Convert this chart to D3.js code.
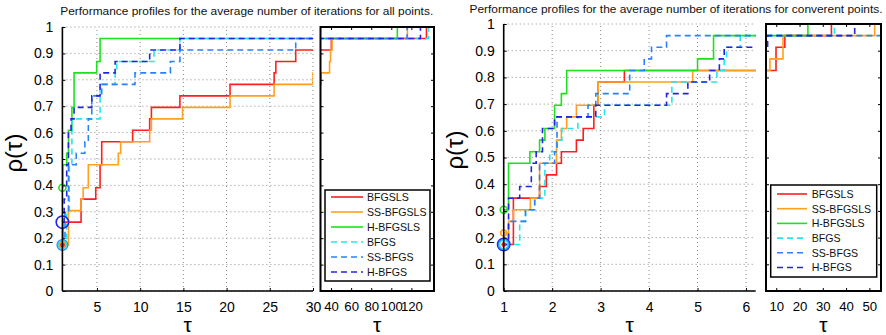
<!DOCTYPE html>
<html><head><meta charset="utf-8">
<script src="https://cdn.jsdelivr.net/npm/d3@7"></script>
<style>body{margin:0;background:#fff;} svg{display:block;font-family:"Liberation Sans",Arial,Helvetica,sans-serif;}</style>
</head><body><svg id="c" width="886" height="335"></svg>
<script>
// ---------------- DATA ----------------
const N_PROBLEMS = 23;
const seriesNames  = ["BFGSLS", "SS-BFGSLS", "H-BFGSLS", "BFGS", "SS-BFGS", "H-BFGS"];
const seriesColors = ["#ff1f1f", "#ffa01e", "#1fe01f", "#22e6f0", "#2a80ff", "#2323e8"];
const seriesDashed = [false, false, false, true, true, true];
const markerRadius = [1.6, 3, 3.5, 4.2, 5.2, 6.2];

// Panel 1: all points  (tau breakpoints, number of problems solved at that tau)
const allTau_BFGSLS   = [1, 1.05, 3.16, 4.86, 5.36, 5.55, 9.13, 11.1, 11.3, 14.6, 20.4, 25.5, 25.7, 28, 40.3, 135];
const allCnt_BFGSLS   = [4, 6, 8, 9, 11, 13, 14, 15, 16, 17, 18, 19, 20, 21, 22, 23];
const allTau_SSBFGSLS = [1, 1.7, 3.16, 3.4, 4.0, 7.47, 7.74, 11.1, 11.3, 14.9, 20.4, 25.5, 30, 38.5, 39.5, 41, 116];
const allCnt_SSBFGSLS = [4, 7, 8, 9, 11, 12, 13, 14, 15, 16, 17, 18, 19, 20, 21, 22, 23];
const allTau_HBFGSLS  = [1, 1.05, 1.5, 1.7, 2.1, 2.35, 4.97, 5.36, 106];
const allCnt_HBFGSLS  = [9, 11, 12, 14, 16, 19, 20, 22, 23];
const allTau_BFGS     = [1, 1.5, 1.8, 2.1, 5.36, 7.1, 7.3, 11.6, 14.6, 137];
const allCnt_BFGS     = [4, 7, 11, 15, 18, 19, 20, 21, 22, 23];
const allTau_SSBFGS   = [1, 1.3, 1.7, 2.6, 3.6, 4.0, 4.4, 5.55, 9.4, 13.5, 14.6, 28, 115.7];
const allCnt_SSBFGS   = [4, 7, 11, 12, 13, 15, 17, 18, 19, 20, 21, 22, 23];
const allTau_HBFGS    = [1, 1.2, 1.5, 1.7, 2.0, 2.35, 4.4, 5.36, 7.1, 11.1, 14.6, 129];
const allCnt_HBFGS    = [6, 8, 11, 14, 15, 16, 17, 19, 20, 21, 22, 23];

// Panel 2: convergent points
const conTau_BFGSLS   = [1, 1.2, 1.74, 1.88, 2.09, 2.19, 2.5, 2.64, 2.86, 2.95, 3.49, 9.9, 13.7, 33.7];
const conCnt_BFGSLS   = [4, 8, 9, 10, 11, 12, 13, 14, 16, 18, 19, 21, 22, 23];
const conTau_SSBFGSLS = [1, 1.1, 1.2, 1.55, 1.74, 2.09, 2.19, 2.3, 2.5, 2.95, 4.9, 7.3, 12.9, 52.3];
const conCnt_SSBFGSLS = [5, 6, 7, 8, 11, 13, 14, 15, 16, 18, 19, 20, 22, 23];
const conTau_HBFGSLS  = [1, 1.1, 1.54, 1.74, 1.85, 2.05, 2.19, 2.3, 5.0, 5.33, 23.6];
const conCnt_HBFGSLS  = [7, 11, 12, 13, 14, 16, 17, 19, 20, 22, 23];
const conTau_BFGS     = [1, 1.33, 1.45, 1.64, 1.85, 1.95, 2.1, 2.2, 2.53, 3.08, 4.47, 5.4, 5.55, 5.6, 5.88, 35];
const conCnt_BFGS     = [4, 6, 7, 8, 11, 12, 13, 14, 15, 16, 18, 19, 20, 21, 22, 23];
const conTau_SSBFGS   = [1, 1.1, 1.45, 1.64, 1.74, 2.05, 2.1, 2.74, 2.9, 3.6, 3.9, 4.05, 4.36, 55];
const conCnt_SSBFGS   = [4, 6, 7, 8, 11, 12, 15, 16, 17, 19, 20, 21, 22, 23];
const conTau_HBFGS    = [1, 1.1, 1.33, 1.57, 1.67, 1.8, 2.05, 2.4, 2.9, 4.36, 4.8, 5.25, 5.45, 5.55, 6.3, 43.7];
const conCnt_HBFGS    = [4, 8, 9, 11, 12, 14, 15, 15, 16, 17, 18, 19, 20, 21, 22, 23];

const yTicks         = [0, 0.1, 0.2, 0.3, 0.4, 0.5, 0.6, 0.7, 0.8, 0.9, 1];
const allMainTicks   = [5, 10, 15, 20, 25, 30];
const allSecTicks    = [40, 60, 80, 100, 120];
const conMainTicks   = [1, 2, 3, 4, 5, 6];
const conSecTicks    = [10, 20, 30, 40, 50];
const titleAll  = "Performance profiles for the average number of iterations for all points.";
const titleConv = "Performance profiles for the average number of iterations for converent points.";

// ---------------- DRAWING ----------------
const svg = d3.select("#c");
let clipId = 0;

function drawPanel(p) {
  const g = svg.append("g");
  const y  = d3.scaleLinear().domain([0, 1]).range([p.yBottom, p.yTop]);
  const xm = d3.scaleLinear().domain(p.mainDomain).range(p.mainRange);
  const xs = d3.scaleLinear().domain(p.secDomain).range(p.secRange);

  const defs = svg.append("defs");
  const cm = "clip" + (clipId++), cs = "clip" + (clipId++);
  defs.append("clipPath").attr("id", cm).append("rect")
    .attr("x", p.mainRange[0]).attr("y", p.yTop - 2)
    .attr("width", p.mainRange[1] - p.mainRange[0]).attr("height", p.yBottom - p.yTop + 2);
  defs.append("clipPath").attr("id", cs).append("rect")
    .attr("x", p.secRange[0]).attr("y", p.yTop)
    .attr("width", p.secRange[1] - p.secRange[0]).attr("height", p.yBottom - p.yTop);

  // title
  g.append("text").attr("x", p.titleX).attr("y", p.titleY).attr("text-anchor", "middle")
    .attr("font-size", 11.5).attr("fill", "#111")
    .attr("textLength", p.titleW).attr("lengthAdjust", "spacingAndGlyphs").text(p.title);

  // grid (main only)
  g.append("g").selectAll("line").data(yTicks).join("line")
    .attr("x1", p.mainRange[0]).attr("x2", p.mainRange[1])
    .attr("y1", d => y(d)).attr("y2", d => y(d))
    .attr("stroke", "#8a8a8a").attr("stroke-width", 1).attr("stroke-dasharray", "1,3");
  g.append("g").selectAll("line").data(p.mainTicks).join("line")
    .attr("x1", d => xm(d)).attr("x2", d => xm(d))
    .attr("y1", p.yBottom).attr("y2", p.yTop)
    .attr("stroke", "#8a8a8a").attr("stroke-width", 1).attr("stroke-dasharray", "1,3");

  // series
  const gm = g.append("g").attr("clip-path", `url(#${cm})`);
  const gs = g.append("g").attr("clip-path", `url(#${cs})`);
  p.series.forEach((s, i) => {
    const pts = s.tau.map((t, j) => [t, s.cnt[j] / N_PROBLEMS]);
    pts.push([p.secDomain[1] * 3, pts[pts.length - 1][1]]);
    [[gm, xm], [gs, xs]].forEach(([gg, xx]) => {
      const line = d3.line().x(d => xx(d[0])).y(d => y(d[1])).curve(d3.curveStepAfter);
      gg.append("path").attr("d", line(pts)).attr("fill", "none")
        .attr("stroke", seriesColors[i]).attr("stroke-width", 1.6)
        .attr("stroke-dasharray", seriesDashed[i] ? "6,4" : null);
    });
  });

  // start markers (largest first)
  const order = d3.range(seriesNames.length).sort((a, b) => markerRadius[b] - markerRadius[a]);
  g.append("g").selectAll("circle").data(order).join("circle")
    .attr("cx", xm(p.mainDomain[0]))
    .attr("cy", i => y(p.series[i].cnt[0] / N_PROBLEMS))
    .attr("r", i => markerRadius[i])
    .attr("fill", "none").attr("stroke", i => seriesColors[i]).attr("stroke-width", 1.6);

  // main axes
  const ay = g.append("g").attr("transform", `translate(${p.mainRange[0]},0)`)
    .call(d3.axisLeft(y).tickValues(yTicks).tickSize(-3).tickPadding(9).tickFormat(d3.format("~g")));
  const ax = g.append("g").attr("transform", `translate(0,${p.yBottom})`)
    .call(d3.axisBottom(xm).tickValues(p.mainTicks).tickSize(-3).tickPadding(11).tickFormat(d3.format("~g")));
  [ay, ax].forEach(a => {
    a.select(".domain").attr("stroke", "#000").attr("stroke-width", 1.6);
    a.selectAll(".tick line").attr("stroke", "#000");
    a.selectAll(".tick text").attr("font-size", 14).attr("fill", "#000").attr("font-family", "Liberation Sans, Arial, sans-serif");
  });
  ay.select(".domain").attr("d", `M0,${p.yBottom}V${p.yTop}`);
  ax.select(".domain").attr("d", `M${p.mainRange[0]},0H${p.mainRange[1]}`);

  // secondary axes box with inward ticks
  const sb = g.append("g").attr("transform", `translate(0,${p.yBottom})`)
    .call(d3.axisBottom(xs).tickValues(p.secTicks).tickSize(-3).tickPadding(11).tickFormat(d3.format("~g")));
  sb.select(".domain").remove();
  sb.selectAll(".tick line").attr("stroke", "#000");
  sb.selectAll(".tick text").attr("font-size", 13.2).attr("fill", "#000");
  const st = g.append("g").attr("transform", `translate(0,${p.yTop})`)
    .call(d3.axisTop(xs).tickValues(p.secTicks).tickSize(-3).tickFormat(""));
  st.select(".domain").remove(); st.selectAll(".tick line").attr("stroke", "#000");
  const sl = g.append("g").attr("transform", `translate(${p.secRange[0]},0)`)
    .call(d3.axisLeft(y).tickValues(yTicks).tickSize(-3).tickFormat(""));
  sl.select(".domain").remove(); sl.selectAll(".tick line").attr("stroke", "#000");
  const sr = g.append("g").attr("transform", `translate(${p.secRange[1]},0)`)
    .call(d3.axisRight(y).tickValues(yTicks).tickSize(-3).tickFormat(""));
  sr.select(".domain").remove(); sr.selectAll(".tick line").attr("stroke", "#000");
  g.append("rect").attr("x", p.secRange[0]).attr("y", p.yTop)
    .attr("width", p.secRange[1] - p.secRange[0]).attr("height", p.yBottom - p.yTop)
    .attr("fill", "none").attr("stroke", "#000").attr("stroke-width", 2);

  // axis labels
  g.append("text").attr("transform", `translate(${p.ylabX},${p.ylabY}) rotate(-90)`)
    .attr("text-anchor", "middle").attr("font-size", 24).text("ρ(τ)");
  g.append("text").attr("x", (p.mainRange[0] + p.mainRange[1]) / 2).attr("y", 332)
    .attr("text-anchor", "middle").attr("font-size", 21).text("τ");
  g.append("text").attr("x", (p.secRange[0] + p.secRange[1]) / 2).attr("y", 332)
    .attr("text-anchor", "middle").attr("font-size", 21).text("τ");

  // legend
  const L = p.legend;
  g.append("rect").attr("x", L.x).attr("y", L.y).attr("width", L.w).attr("height", L.h)
    .attr("fill", "#fff").attr("stroke", "#000").attr("stroke-width", 1.5);
  const rows = g.append("g").selectAll("g").data(seriesNames).join("g")
    .attr("transform", (d, i) => `translate(0,${L.row0 + i * L.dy})`);
  rows.append("line").attr("x1", L.lx0).attr("x2", L.lx1).attr("y1", 0).attr("y2", 0)
    .attr("stroke", (d, i) => seriesColors[i]).attr("stroke-width", 1.6)
    .attr("stroke-dasharray", (d, i) => seriesDashed[i] ? "6,4" : null);
  rows.append("text").attr("x", L.tx).attr("y", 0).attr("dy", "0.36em")
    .attr("font-size", 10.6).attr("fill", "#111").text(d => d);
}

drawPanel({
  title: titleAll, titleX: 246.7, titleY: 15, titleW: 373,
  mainDomain: [1, 30], mainRange: [62.4, 313], mainTicks: allMainTicks,
  secDomain: [29.5, 142.5], secRange: [320.5, 434], secTicks: allSecTicks,
  yTop: 27, yBottom: 291, ylabX: 22, ylabY: 153,
  series: [
    {tau: allTau_BFGSLS, cnt: allCnt_BFGSLS}, {tau: allTau_SSBFGSLS, cnt: allCnt_SSBFGSLS},
    {tau: allTau_HBFGSLS, cnt: allCnt_HBFGSLS}, {tau: allTau_BFGS, cnt: allCnt_BFGS},
    {tau: allTau_SSBFGS, cnt: allCnt_SSBFGS}, {tau: allTau_HBFGS, cnt: allCnt_HBFGS}],
  legend: {x: 325, y: 190, w: 105, h: 91, row0: 197, dy: 15, lx0: 331, lx1: 363, tx: 367}
});
drawPanel({
  title: titleConv, titleX: 676, titleY: 12.7, titleW: 413,
  mainDomain: [1, 6.2], mainRange: [503.7, 755.7], mainTicks: conMainTicks,
  secDomain: [5.6, 55], secRange: [766, 881], secTicks: conSecTicks,
  yTop: 24, yBottom: 291, ylabX: 463, ylabY: 150,
  series: [
    {tau: conTau_BFGSLS, cnt: conCnt_BFGSLS}, {tau: conTau_SSBFGSLS, cnt: conCnt_SSBFGSLS},
    {tau: conTau_HBFGSLS, cnt: conCnt_HBFGSLS}, {tau: conTau_BFGS, cnt: conCnt_BFGS},
    {tau: conTau_SSBFGS, cnt: conCnt_SSBFGS}, {tau: conTau_HBFGS, cnt: conCnt_HBFGS}],
  legend: {x: 770.7, y: 185, w: 106, h: 92, row0: 194, dy: 14.7, lx0: 777, lx1: 807, tx: 811.7}
});
</script></body></html>
